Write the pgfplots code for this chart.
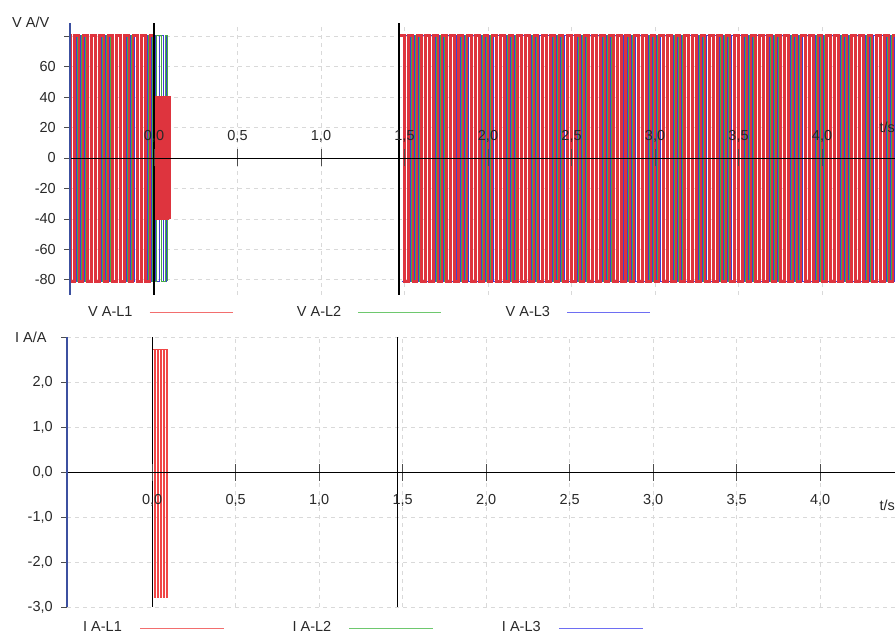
\documentclass[border=0pt]{standalone}
\usepackage{pgfplots}
\pgfplotsset{compat=1.18}
\usepackage{fontspec}
\setmainfont{Liberation Sans}
\definecolor{cR}{RGB}{222,52,62}
\definecolor{cG}{RGB}{70,170,70}
\definecolor{cB}{RGB}{62,62,212}
\definecolor{lR}{RGB}{242,110,110}
\definecolor{lG}{RGB}{110,200,110}
\definecolor{lB}{RGB}{110,110,242}
\definecolor{cur}{RGB}{240,70,70}
\definecolor{axB}{RGB}{60,80,160}
\definecolor{txt}{RGB}{40,40,40}
\pgfplotsset{
 layers/mine/.define layer set={axis background,axis grid,main,axis ticks,axis lines,axis tick labels,axis descriptions,axis foreground}{
  grid style={/pgfplots/on layer=axis grid},
  tick style={/pgfplots/on layer=axis ticks},
  axis line style={/pgfplots/on layer=axis lines},
  label style={/pgfplots/on layer=axis descriptions},
  legend style={/pgfplots/on layer=axis descriptions},
  title style={/pgfplots/on layer=axis descriptions},
  ticklabel style={/pgfplots/on layer=axis tick labels},
 },
 common/.style={
  set layers=mine,
  clip bounding box=upper bound,
  scale only axis,
  /pgf/number format/assume math mode=true,
  axis x line=middle, axis y line=left,
  axis line style={-},
  x axis line style={black, line width=0.8bp},
  y axis line style={axB, line width=1.3bp},
  xtick={0,0.5,1,1.5,2,2.5,3,3.5,4},
  xtick align=center, ytick align=outside,
  xtick style={/pgfplots/major tick length=17bp, black!70, line width=0.6bp},
  ytick style={/pgfplots/major tick length=6bp, black!70, line width=0.6bp},
  xticklabel style={/pgf/number format/fixed, /pgf/number format/fixed zerofill, /pgf/number format/precision=1, /pgf/number format/use comma},
  yticklabel style={xshift=-5bp},
  tick label style={text=txt},
  grid=major,
  major grid style={gray!30, dash pattern=on 4bp off 4bp, line width=0.6bp},
  legend columns=3,
  legend plot pos=right,
  legend style={draw=none, fill=none, inner sep=0bp, anchor=west,
    nodes={inner sep=0bp, text=txt}},
 },
 wR/.style={cR, line width=2.6bp, const plot, forget plot},
 wG/.style={cG, line width=0.9bp, const plot, forget plot},
 wB/.style={cB, line width=0.9bp, const plot, forget plot},
}
\begin{document}
\fontsize{14.5bp}{17bp}\selectfont
\begin{tikzpicture}[trim left=0bp, trim right=895bp]
\path (0bp,0bp) (895bp,637bp);
% ---------------- top panel ----------------
\begin{axis}[common, at={(70bp,342bp)}, anchor=south west, width=825bp, height=272bp,
 xmin=-0.503, xmax=4.437, ymin=-90, ymax=88.6,
 ytick={-80,-60,-40,-20,0,20,40,60,80},
 yticklabels={-80,-60,-40,-20,0,20,40,60,{}},
 xticklabel style={anchor=base, yshift=20bp},
 legend style={at={(rel axis cs:0,0)}, xshift=18bp, yshift=-18bp,
   /tikz/every even column/.append style={column sep=63.7bp}},
 legend image code/.code={\path (0bp,0bp) (100bp,0bp); \draw[#1, line width=1bp] (17bp,0bp) -- (100bp,0bp);},
]
\addlegendimage{lR}\addlegendentry{V A-L1}
\addlegendimage{lG}\addlegendentry{V A-L2}
\addlegendimage{lB}\addlegendentry{V A-L3}
% L3
\addplot[wB] coordinates {(-0.542,-81)(-0.517,80.5)(-0.492,-81)(-0.467,80.5)(-0.442,-81)(-0.417,80.5)(-0.392,-81)(-0.367,80.5)(-0.342,-81)(-0.317,80.5)(-0.292,-81)(-0.267,80.5)(-0.242,-81)(-0.217,80.5)(-0.192,-81)(-0.167,80.5)(-0.142,-81)(-0.117,80.5)(-0.092,-81)(-0.067,80.5)(-0.042,-81)(-0.017,80.5)(0.008,-81)(0.033,80.5)(0.058,-81)(0.072,80.5)};
\addplot[wB] coordinates {(1.483,-81)
(1.508,80.5)(1.533,-81)(1.558,80.5)(1.583,-81)
(1.608,80.5)(1.633,-81)(1.658,80.5)(1.683,-81)
(1.708,80.5)(1.733,-81)(1.758,80.5)(1.783,-81)
(1.808,80.5)(1.833,-81)(1.858,80.5)(1.883,-81)
(1.908,80.5)(1.933,-81)(1.958,80.5)(1.983,-81)
(2.008,80.5)(2.033,-81)(2.058,80.5)(2.083,-81)
(2.108,80.5)(2.133,-81)(2.158,80.5)(2.183,-81)
(2.208,80.5)(2.233,-81)(2.258,80.5)(2.283,-81)
(2.308,80.5)(2.333,-81)(2.358,80.5)(2.383,-81)
(2.408,80.5)(2.433,-81)(2.458,80.5)(2.483,-81)
(2.508,80.5)(2.533,-81)(2.558,80.5)(2.583,-81)
(2.608,80.5)(2.633,-81)(2.658,80.5)(2.683,-81)
(2.708,80.5)(2.733,-81)(2.758,80.5)(2.783,-81)
(2.808,80.5)(2.833,-81)(2.858,80.5)(2.883,-81)
(2.908,80.5)(2.933,-81)(2.958,80.5)(2.983,-81)
(3.008,80.5)(3.033,-81)(3.058,80.5)(3.083,-81)
(3.108,80.5)(3.133,-81)(3.158,80.5)(3.183,-81)
(3.208,80.5)(3.233,-81)(3.258,80.5)(3.283,-81)
(3.308,80.5)(3.333,-81)(3.358,80.5)(3.383,-81)
(3.408,80.5)(3.433,-81)(3.458,80.5)(3.483,-81)
(3.508,80.5)(3.533,-81)(3.558,80.5)(3.583,-81)
(3.608,80.5)(3.633,-81)(3.658,80.5)(3.683,-81)
(3.708,80.5)(3.733,-81)(3.758,80.5)(3.783,-81)
(3.808,80.5)(3.833,-81)(3.858,80.5)(3.883,-81)
(3.908,80.5)(3.933,-81)(3.958,80.5)(3.983,-81)
(4.008,80.5)(4.033,-81)(4.058,80.5)(4.083,-81)
(4.108,80.5)(4.133,-81)(4.158,80.5)(4.183,-81)
(4.208,80.5)(4.233,-81)(4.258,80.5)(4.283,-81)
(4.308,80.5)(4.333,-81)(4.358,80.5)(4.383,-81)
(4.408,80.5)(4.433,-81)(4.458,80.5)(4.483,-81)};
% L2
\addplot[wG] coordinates {(-0.533,80.5)(-0.508,-81)(-0.483,80.5)(-0.458,-81)(-0.433,80.5)(-0.408,-81)(-0.383,80.5)(-0.358,-81)(-0.333,80.5)(-0.308,-81)(-0.283,80.5)(-0.258,-81)(-0.233,80.5)(-0.208,-81)(-0.183,80.5)(-0.158,-81)(-0.133,80.5)(-0.108,-81)(-0.083,80.5)(-0.058,-81)(-0.033,80.5)(-0.008,-81)(0.017,80.5)(0.042,-81)(0.067,80.5)(0.078,-81)};
\addplot[wG] coordinates {(1.467,80.5)(1.492,-81)
(1.517,80.5)(1.542,-81)(1.567,80.5)(1.592,-81)
(1.617,80.5)(1.642,-81)(1.667,80.5)(1.692,-81)
(1.717,80.5)(1.742,-81)(1.767,80.5)(1.792,-81)
(1.817,80.5)(1.842,-81)(1.867,80.5)(1.892,-81)
(1.917,80.5)(1.942,-81)(1.967,80.5)(1.992,-81)
(2.017,80.5)(2.042,-81)(2.067,80.5)(2.092,-81)
(2.117,80.5)(2.142,-81)(2.167,80.5)(2.192,-81)
(2.217,80.5)(2.242,-81)(2.267,80.5)(2.292,-81)
(2.317,80.5)(2.342,-81)(2.367,80.5)(2.392,-81)
(2.417,80.5)(2.442,-81)(2.467,80.5)(2.492,-81)
(2.517,80.5)(2.542,-81)(2.567,80.5)(2.592,-81)
(2.617,80.5)(2.642,-81)(2.667,80.5)(2.692,-81)
(2.717,80.5)(2.742,-81)(2.767,80.5)(2.792,-81)
(2.817,80.5)(2.842,-81)(2.867,80.5)(2.892,-81)
(2.917,80.5)(2.942,-81)(2.967,80.5)(2.992,-81)
(3.017,80.5)(3.042,-81)(3.067,80.5)(3.092,-81)
(3.117,80.5)(3.142,-81)(3.167,80.5)(3.192,-81)
(3.217,80.5)(3.242,-81)(3.267,80.5)(3.292,-81)
(3.317,80.5)(3.342,-81)(3.367,80.5)(3.392,-81)
(3.417,80.5)(3.442,-81)(3.467,80.5)(3.492,-81)
(3.517,80.5)(3.542,-81)(3.567,80.5)(3.592,-81)
(3.617,80.5)(3.642,-81)(3.667,80.5)(3.692,-81)
(3.717,80.5)(3.742,-81)(3.767,80.5)(3.792,-81)
(3.817,80.5)(3.842,-81)(3.867,80.5)(3.892,-81)
(3.917,80.5)(3.942,-81)(3.967,80.5)(3.992,-81)
(4.017,80.5)(4.042,-81)(4.067,80.5)(4.092,-81)
(4.117,80.5)(4.142,-81)(4.167,80.5)(4.192,-81)
(4.217,80.5)(4.242,-81)(4.267,80.5)(4.292,-81)
(4.317,80.5)(4.342,-81)(4.367,80.5)(4.392,-81)
(4.417,80.5)(4.442,-81)(4.467,80.5)(4.492,-81)};
% L1
\addplot[wR] coordinates {(-0.525,80.5)(-0.5,-81)(-0.475,80.5)(-0.45,-81)(-0.425,80.5)(-0.4,-81)(-0.375,80.5)(-0.35,-81)(-0.325,80.5)(-0.3,-81)(-0.275,80.5)(-0.25,-81)(-0.225,80.5)(-0.2,-81)(-0.175,80.5)(-0.15,-81)(-0.125,80.5)(-0.1,-81)(-0.075,80.5)(-0.05,-81)(-0.025,80.5)(0,-40)(0.012,40)(0.024,-40)(0.036,40)(0.048,-40)(0.06,40)(0.072,-40)(0.084,40)(0.096,-40)};
\addplot[wR] coordinates {(1.475,80.5)
(1.5,-81)(1.525,80.5)(1.55,-81)(1.575,80.5)
(1.6,-81)(1.625,80.5)(1.65,-81)(1.675,80.5)
(1.7,-81)(1.725,80.5)(1.75,-81)(1.775,80.5)
(1.8,-81)(1.825,80.5)(1.85,-81)(1.875,80.5)
(1.9,-81)(1.925,80.5)(1.95,-81)(1.975,80.5)
(2.0,-81)(2.025,80.5)(2.05,-81)(2.075,80.5)
(2.1,-81)(2.125,80.5)(2.15,-81)(2.175,80.5)
(2.2,-81)(2.225,80.5)(2.25,-81)(2.275,80.5)
(2.3,-81)(2.325,80.5)(2.35,-81)(2.375,80.5)
(2.4,-81)(2.425,80.5)(2.45,-81)(2.475,80.5)
(2.5,-81)(2.525,80.5)(2.55,-81)(2.575,80.5)
(2.6,-81)(2.625,80.5)(2.65,-81)(2.675,80.5)
(2.7,-81)(2.725,80.5)(2.75,-81)(2.775,80.5)
(2.8,-81)(2.825,80.5)(2.85,-81)(2.875,80.5)
(2.9,-81)(2.925,80.5)(2.95,-81)(2.975,80.5)
(3.0,-81)(3.025,80.5)(3.05,-81)(3.075,80.5)
(3.1,-81)(3.125,80.5)(3.15,-81)(3.175,80.5)
(3.2,-81)(3.225,80.5)(3.25,-81)(3.275,80.5)
(3.3,-81)(3.325,80.5)(3.35,-81)(3.375,80.5)
(3.4,-81)(3.425,80.5)(3.45,-81)(3.475,80.5)
(3.5,-81)(3.525,80.5)(3.55,-81)(3.575,80.5)
(3.6,-81)(3.625,80.5)(3.65,-81)(3.675,80.5)
(3.7,-81)(3.725,80.5)(3.75,-81)(3.775,80.5)
(3.8,-81)(3.825,80.5)(3.85,-81)(3.875,80.5)
(3.9,-81)(3.925,80.5)(3.95,-81)(3.975,80.5)
(4.0,-81)(4.025,80.5)(4.05,-81)(4.075,80.5)
(4.1,-81)(4.125,80.5)(4.15,-81)(4.175,80.5)
(4.2,-81)(4.225,80.5)(4.25,-81)(4.275,80.5)
(4.3,-81)(4.325,80.5)(4.35,-81)(4.375,80.5)
(4.4,-81)(4.425,80.5)(4.45,-81)(4.475,80.5)};
% cursors
\addplot[black, line width=1.3bp, forget plot] coordinates {(0,-90)(0,88.6)};
\addplot[black, line width=1.3bp, forget plot] coordinates {(1.467,-90)(1.467,88.6)};
\end{axis}
% ---------------- bottom panel ----------------
\begin{axis}[common, at={(67bp,30bp)}, anchor=south west, width=828bp, height=270bp,
 xmin=-0.51, xmax=4.448, ymin=-3, ymax=3,
 ytick={-3,-2,-1,0,1,2,3},
 yticklabels={{-3,0},{-2,0},{-1,0},{0,0},{1,0},{2,0},{}},
 xticklabel style={anchor=base, yshift=-30bp},
 legend style={at={(rel axis cs:0,0)}, xshift=16bp, yshift=-21bp,
   /tikz/every even column/.append style={column sep=68bp}},
 legend image code/.code={\path (0bp,0bp) (102bp,0bp); \draw[#1, line width=1bp] (18bp,0bp) -- (102bp,0bp);},
]
\addlegendimage{lR}\addlegendentry{I A-L1}
\addlegendimage{lG}\addlegendentry{I A-L2}
\addlegendimage{lB}\addlegendentry{I A-L3}
\addplot[cB, line width=1bp, forget plot] coordinates {(-0.6,0)(4.5,0)};
\addplot[cG, line width=1bp, forget plot] coordinates {(-0.6,0)(4.5,0)};
\addplot[cur, line width=1.1bp, const plot, forget plot] coordinates {(0.003,2.73)(0.012,-2.78)(0.021,2.73)(0.03,-2.78)(0.039,2.73)(0.048,-2.78)(0.057,2.73)(0.066,-2.78)(0.075,2.73)(0.084,-2.78)(0.09,2.73)};
\addplot[black, line width=1.3bp, forget plot] coordinates {(0,-3)(0,3)};
\addplot[black, line width=1.3bp, forget plot] coordinates {(1.467,-3)(1.467,3)};
\end{axis}
% axis titles
\node[anchor=west, text=txt, inner sep=0pt] at (12bp,614.5bp) {V A/V};
\node[anchor=west, text=txt, inner sep=0pt] at (15bp,300bp) {I A/A};
\node[anchor=base east, text=txt, inner sep=0pt] at (895bp,504bp) {t/s};
\node[anchor=base east, text=txt, inner sep=0pt] at (895bp,126bp) {t/s};
\end{tikzpicture}
\end{document}
